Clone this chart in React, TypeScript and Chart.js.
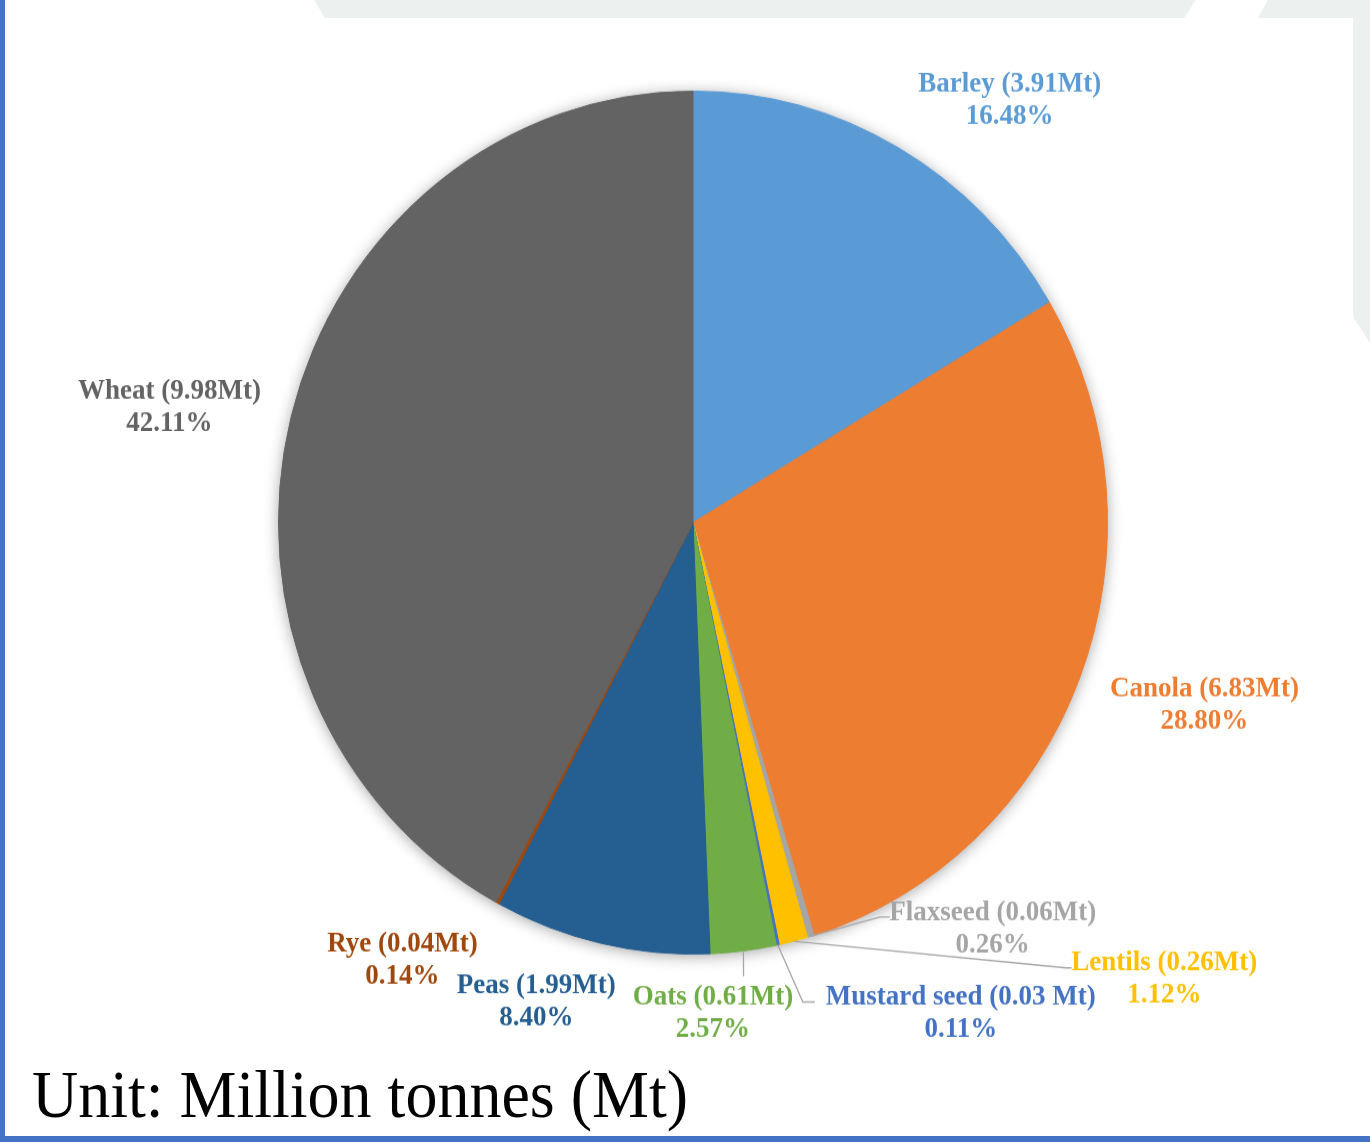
import React, { useEffect, useRef } from "react";
import { Chart, registerables } from "chart.js";

Chart.register(...registerables);

// ---- data ----
const categories = ["Barley", "Canola", "Flaxseed", "Lentils", "Mustard seed", "Oats", "Peas", "Rye", "Wheat"];
const tonneLabels = ["(3.91Mt)", "(6.83Mt)", "(0.06Mt)", "(0.26Mt)", "(0.03 Mt)", "(0.61Mt)", "(1.99Mt)", "(0.04Mt)", "(9.98Mt)"];
const percents = [16.48, 28.8, 0.26, 1.12, 0.11, 2.57, 8.4, 0.14, 42.11];

// ---- styles ----
const colors = ["#5B9BD5", "#ED7D31", "#A5A5A5", "#FFC000", "#4472C4", "#70AD47", "#255E91", "#9E480E", "#636363"];
// label anchor (centre of first line) relative to pie centre, in radius units
const labelPos: [number, number][] = [
  [0.764, -1.016],
  [1.234, 0.385],
  [0.723, 0.905],
  [1.137, 1.021],
  [0.646, 1.1],
  [0.048, 1.1],
  [-0.378, 1.074],
  [-0.701, 0.977],
  [-1.263, -0.303],
];
// leader line points after the slice edge, in radius units (null = none)
const leaders: ([number, number][] | null)[] = [
  null,
  null,
  [[0.451, 0.914], [0.475, 0.914]],
  [[0.901, 1.032], [0.913, 1.032]],
  [[0.265, 1.111], [0.294, 1.111]],
  [[0.122, 1.051]],
  null,
  null,
  null,
];

const W = 1370;
const H_REF = 1142;
const STRETCH = 1.041;
const H = Math.round(H_REF / STRETCH);
const SERIF = '"Liberation Serif", serif';

const shadowPlugin = {
  id: "pieShadow",
  beforeDatasetsDraw(chart: any) {
    const arc = chart.getDatasetMeta(0).data[0];
    if (!arc) return;
    const { x, y, outerRadius } = arc.getProps(["x", "y", "outerRadius"], true);
    const ctx = chart.ctx;
    ctx.save();
    ctx.shadowColor = "rgba(0,0,0,0.4)";
    ctx.shadowBlur = 16;
    ctx.shadowOffsetY = 2;
    ctx.beginPath();
    ctx.arc(x, y, outerRadius - 1, 0, Math.PI * 2);
    ctx.fillStyle = "#777";
    ctx.fill();
    ctx.restore();
  },
};

const labelPlugin = {
  id: "outLabels",
  afterDatasetsDraw(chart: any) {
    const ctx = chart.ctx;
    const meta = chart.getDatasetMeta(0);
    ctx.save();
    meta.data.forEach((el: any, i: number) => {
      const { x, y, startAngle, endAngle, outerRadius } = el.getProps(
        ["x", "y", "startAngle", "endAngle", "outerRadius"],
        true
      );
      const R = outerRadius;
      const mid = (startAngle + endAngle) / 2;
      const lead = leaders[i];
      if (lead) {
        ctx.beginPath();
        ctx.moveTo(x + Math.cos(mid) * R, y + Math.sin(mid) * R);
        lead.forEach(([dx, dy]) => ctx.lineTo(x + dx * R, y + dy * R));
        ctx.strokeStyle = "#A6A6A6";
        ctx.lineWidth = 1.3;
        ctx.stroke();
      }
      const [lx, ly] = labelPos[i];
      const px = x + lx * R;
      const py = y + ly * R;
      ctx.font = `bold 27px ${SERIF}`;
      ctx.textAlign = "center";
      ctx.textBaseline = "middle";
      ctx.fillStyle = colors[i];
      ctx.fillText(`${categories[i]} ${tonneLabels[i]}`, px, py);
      ctx.fillText(`${percents[i].toFixed(2)}%`, px, py + 31);
    });
    ctx.restore();
  },
};

export default function App() {
  const canvasRef = useRef<HTMLCanvasElement | null>(null);

  useEffect(() => {
    document.body.style.margin = "0";
    const canvas = canvasRef.current;
    if (!canvas) return;
    const chart = new Chart(canvas, {
      type: "pie",
      data: {
        labels: categories,
        datasets: [
          {
            data: percents,
            backgroundColor: colors,
            borderColor: colors,
            borderWidth: 1,
          },
        ],
      },
      options: {
        responsive: false,
        animation: false,
        layout: { padding: { left: 278, right: 262, top: 87, bottom: 180 } },
        plugins: {
          legend: { display: false },
          tooltip: { enabled: false },
          title: { display: false },
        },
      },
      plugins: [shadowPlugin, labelPlugin],
    });
    return () => chart.destroy();
  }, []);

  return (
    <div style={{ position: "relative", width: W, height: H_REF, overflow: "hidden", background: "#fff" }}>
      <svg width={W} height={H_REF} style={{ position: "absolute", left: 0, top: 0 }}>
        <polygon points="314,0 1196,0 1184,18 325,18" fill="#ECF0EF" />
        <polygon points="1268,0 1370,0 1370,343 1353,317 1353,18 1258,18" fill="#ECF0EF" />
      </svg>
      <div
        style={{
          position: "absolute",
          left: 0,
          top: 0,
          width: W,
          height: H,
          transform: `scaleY(${STRETCH})`,
          transformOrigin: "0 0",
        }}
      >
        <canvas ref={canvasRef} width={W} height={H} style={{ display: "block" }} />
        <div
          style={{
            position: "absolute",
            left: 32,
            top: 1020,
            fontFamily: SERIF,
            fontSize: 64,
            lineHeight: "64px",
            color: "#000",
            whiteSpace: "nowrap",
          }}
        >
          Unit: Million tonnes (Mt)
        </div>
      </div>
      <div style={{ position: "absolute", left: 0, top: 0, width: 5, height: H_REF, background: "#4472C4" }} />
      <div style={{ position: "absolute", left: 0, top: H_REF - 6, width: W, height: 6, background: "#4472C4" }} />
    </div>
  );
}
